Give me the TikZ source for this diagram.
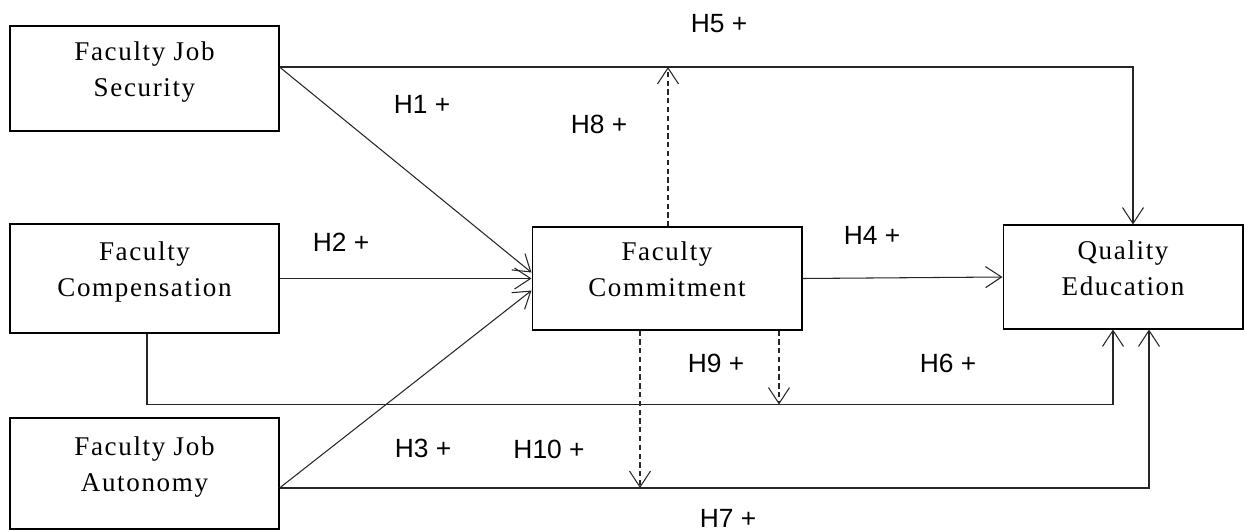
\documentclass[tikz,border=0pt]{standalone}
\usepackage{fontspec}
\setmainfont{Liberation Serif}
\newfontfamily\varfont[LetterSpace=6]{Liberation Serif}
\newfontfamily\hypfont{Liberation Sans}
\usetikzlibrary{arrows.meta,calc}

\begin{document}
\begin{tikzpicture}[x=0.02cm,y=-0.02cm,
    var node/.style={draw,line width=0.6pt,align=center,inner sep=0pt,
      font=\varfont\fontsize{15.4}{20.4}\selectfont,text depth=10.5pt},
    hyp/.style={font=\hypfont\fontsize{15}{18}\selectfont,inner sep=0pt},
    link/.style={line width=0.6pt,color=black!85,-{Straight Barb[length=0.32cm,width=0.42cm]}},
    plain/.style={line width=0.6pt,draw=black!85},
    mod link/.style={link,dash pattern=on 3pt off 2pt}]
        \useasboundingbox (0,0) rectangle (1245,531);
        % constructs
        \node[var node,minimum width=5.38cm,minimum height=2.1cm] (sec) at (144.5,78.5) {Faculty Job\\Security};
        \node[var node,minimum width=5.38cm,minimum height=2.18cm] (comp) at (144.5,278.5) {Faculty\\Compensation};
        \node[var node,minimum width=5.38cm,minimum height=2.22cm] (auto) at (144.5,473.5) {Faculty Job\\Autonomy};
        \node[var node,minimum width=5.4cm,minimum height=2.06cm] (com) at (667,278.5) {Faculty\\Commitment};
        \node[var node,minimum width=4.8cm,minimum height=2.08cm] (qe) at (1123,277) {Quality\\Education};
        % anchor points
        \coordinate (secout) at ($(sec.east)+(0,-11.5)$);
        \coordinate (autoout) at ($(auto.east)+(0,14.5)$);
        \coordinate (compout) at ($(comp.south)+(2.5,0)$);
        \coordinate (compturn) at ($(compout)+(0,71)$);
        \coordinate (h8start) at ($(com.north)+(1,0)$);
        \coordinate (h9start) at ($(com.south)+(112,0)$);
        \coordinate (h10start) at ($(com.south)+(-27,0)$);
        % direct paths
        \path[link]
          (secout) edge ($(com.west)+(0,-6)$)
          (comp.east) edge (com.west)
          (autoout) edge ($(com.west)+(0,12)$)
          (com.east) edge (qe.west);
        \draw[link] (secout) -| ($(qe.north)+(10,0)$);
        \draw[plain] (compout) -- (compturn);
        \draw[link] (compturn) -| ($(qe.south)+(-10,0)$);
        \draw[link] (autoout) -| ($(qe.south)+(26,0)$);
        % moderating paths
        \draw[mod link] (h8start) -- (h8start |- secout);
        \draw[mod link] (h9start) -- (h9start |- compturn);
        \draw[mod link] (h10start) -- (h10start |- autoout);
        % hypotheses
        \node[hyp] (h1) at (422,104) {H1 +};
        \node[hyp] (h2) at (341,242) {H2 +};
        \node[hyp] (h3) at (423,448) {H3 +};
        \node[hyp] (h4) at (872,235) {H4 +};
        \node[hyp] (h5) at (719,24) {H5 +};
        \node[hyp] (h6) at (948,363) {H6 +};
        \node[hyp] (h7) at (728,518) {H7 +};
        \node[hyp] (h8) at (599,124) {H8 +};
        \node[hyp] (h9) at (716,363) {H9 +};
        \node[hyp] (h10) at (549,449) {H10 +};
\end{tikzpicture}
\end{document}
